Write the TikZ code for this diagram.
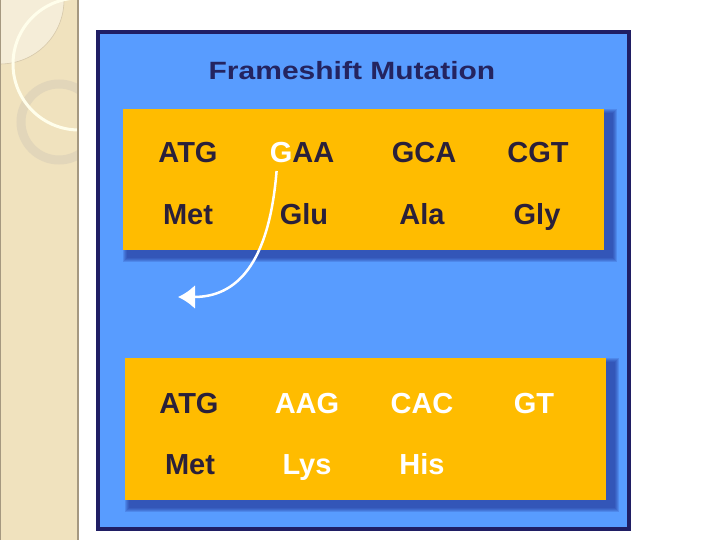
\documentclass[tikz,border=0pt]{standalone}
\usepackage{fontspec}
\setmainfont{Liberation Sans}
\usetikzlibrary{arrows.meta}
\definecolor{slidebeige}{RGB}{240,226,190}
\definecolor{slidelight}{RGB}{245,237,216}
\definecolor{slideline}{RGB}{214,200,170}
\definecolor{ringtan}{RGB}{226,214,186}
\definecolor{stripedge}{RGB}{165,152,128}
\definecolor{panelblue}{RGB}{88,156,255}
\definecolor{panelnavy}{RGB}{32,30,100}
\definecolor{titleink}{RGB}{36,36,96}
\definecolor{codonbox}{RGB}{255,188,0}
\definecolor{codonink}{RGB}{42,32,58}
\definecolor{boxshadow}{RGB}{30,42,140}
\begin{document}
\begin{tikzpicture}[x=1pt,y=-1pt,
  codon/.style={font=\fontsize{29}{29}\selectfont\bfseries,text=codonink,anchor=base,inner sep=0pt},
  shifted/.style={codon,text=white},
  strand/.style={fill=codonbox,minimum width=481pt,minimum height=141pt,inner sep=0pt}]
\useasboundingbox (0,0) rectangle (720,540);
\begin{scope}
\clip (0,0) rectangle (78,540);
\fill[slidebeige] (0,0) rectangle (78,540);
\fill[slidelight] (0,0) circle (64pt);
\draw[slideline,line width=0.6pt] (0,0) circle (64pt);
\draw[ringtan,line width=9pt] (59,122) circle (38pt);
\draw[white!92!yellow,line width=3pt] (79,64) circle (66pt);
\end{scope}
\draw[stripedge,line width=1.5pt] (78,0) -- (78,540);
\draw[stripedge,line width=0.8pt] (0.4,0) -- (0.4,540);
\fill[panelblue] (98,32) rectangle (629,529);
\draw[panelnavy,line width=4pt] (98,32) rectangle (629,529);
\node[font=\fontsize{25}{25}\selectfont\bfseries,text=titleink,anchor=base,xscale=1.2,transform shape] (title) at (352,80) {Frameshift Mutation};
\foreach \s in {0,...,4}
  \fill[boxshadow,opacity=0.17] (127-\s,113-\s) rectangle (613+\s,258+\s);
\foreach \s in {0,...,4}
  \fill[boxshadow,opacity=0.17] (129-\s,362-\s) rectangle (615+\s,508+\s);
\node[strand] (topstrand) at (363.5,179.5) {};
\node[strand,minimum height=142pt] (botstrand) at (365.5,429) {};
\node[codon] (topatg) at (188,163) {ATG};
\node[codon] (topgaa) at (302,163) {\textcolor{white}{G}AA};
\node[codon] (topgca) at (424,163) {GCA};
\node[codon] (topcgt) at (538,163) {CGT};
\node[codon] (topmet) at (188,225) {Met};
\node[codon] (topglu) at (304,225) {Glu};
\node[codon] (topala) at (422,225) {Ala};
\node[codon] (topgly) at (537,225) {Gly};
\node[codon] (botatg) at (189,413) {ATG};
\node[shifted] (botaag) at (307,413) {AAG};
\node[shifted] (botcac) at (422,413) {CAC};
\node[shifted] (botgt) at (534,413) {GT};
\node[codon] (botmet) at (190,474) {Met};
\node[shifted] (botlys) at (307,474) {Lys};
\node[shifted] (bothis) at (422,474) {His};
\coordinate (gtail) at ([shift={(7,8)}]topgaa.base west);
\coordinate (gland) at (178,297);
\draw[white,line width=2.5pt,-{Latex[length=17pt,width=24pt]}] (gtail) .. controls (269,265) and (236,297) .. (gland);
\end{tikzpicture}
\end{document}
